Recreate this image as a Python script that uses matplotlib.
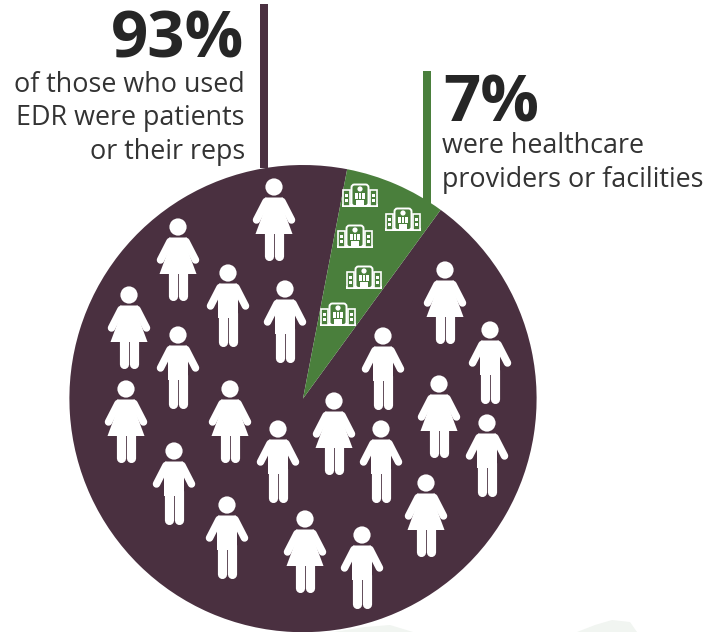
import matplotlib
matplotlib.use('Agg')
import matplotlib.pyplot as plt
from matplotlib.patches import Circle, Polygon, Rectangle, FancyBboxPatch

shares = [93, 7]
labels = ['patients or their reps', 'healthcare providers or facilities']
headline_big = '93%'
headline_small = '7%'
text_big = ['of those who used', 'EDR were patients', 'or their reps']
text_small = ['were healthcare', 'providers or facilities']

purple = '#4a3040'
green = '#4a7f3c'
white = 'white'
H = 632

# head centres of the pictogram people, pixels from the top left
women = [(274, 187), (178, 227), (129, 295), (126, 389), (230, 389), (334, 401),
         (445, 270), (439, 384), (426, 483), (305, 519)]
men = [(228, 273), (285, 289), (178, 335), (174, 451), (278, 429), (381, 429),
       (383, 336), (490, 330), (487, 423), (227, 505), (362, 535)]
# base centres of the little hospitals
hospitals = [(360, 205), (403, 229), (355, 246), (364, 287), (338, 324)]

fig = plt.figure(figsize=(7.09, 6.32), dpi=100)
ax = fig.add_axes([0, 0, 1, 1])
plt.rcParams['font.family'] = ['Open Sans', 'DejaVu Sans']


def person(x, y, skirt):
    y = H - y
    ax.add_patch(Circle((x, y), 8.6, fc=white, ec='none', zorder=5))
    # arms
    for s in (-1, 1):
        ax.plot([x + s * 8, x + s * 17.5], [y - 14.5, y - 33], color=white, lw=5.4,
                solid_capstyle='round', zorder=5)
    # legs
    for s in (-1, 1):
        ax.plot([x + s * 5.3, x + s * 5.3], [y - 40, y - 69], color=white, lw=6.6,
                solid_capstyle='round', zorder=5)
    if skirt:
        pts = [(x - 9, y - 10.5), (x + 9, y - 10.5), (x + 10, y - 24), (x + 18.5, y - 47),
               (x - 18.5, y - 47), (x - 10, y - 24)]
    else:
        pts = [(x - 9, y - 10.5), (x + 9, y - 10.5), (x + 10, y - 20), (x + 10, y - 45),
               (x - 10, y - 45), (x - 10, y - 20)]
    ax.add_patch(Polygon(pts, closed=True, fc=white, ec='none', zorder=5))


def hospital(x, y):
    y = H - y
    ax.add_patch(Rectangle((x - 18, y - 2), 36, 3, fc=white, ec='none', zorder=5))
    # side wings then the main block over them
    for s in (-1, 1):
        ax.add_patch(Rectangle((x + s * 13.5 - 3.5, y - 1), 7, 16, fc=green, ec=white,
                               lw=1.2, zorder=5))
        for dy in (3.5, 8):
            ax.add_patch(Rectangle((x + s * 13.5 - 1.5, y + dy), 3, 2.6, fc=white,
                                   ec='none', zorder=6))
    ax.add_patch(FancyBboxPatch((x - 8.5, y - 1), 17, 21.5,
                                boxstyle='round,pad=0,rounding_size=3', fc=green, ec=white,
                                lw=1.4, zorder=6))
    ax.add_patch(Circle((x, y + 16), 2.6, fc=white, ec='none', zorder=7))
    for i in (-1, 0, 1):
        for j in (0, 1):
            ax.add_patch(Rectangle((x + i * 3.4 - 1.4, y + 6 + j * 3.4), 2.8, 2.7, fc=white,
                                   ec='none', zorder=7))
    ax.add_patch(Rectangle((x - 3.6, y - 1), 7.2, 6.5, fc=white, ec='none', zorder=7))


# pale shapes peeking in along the bottom edge
ax.add_patch(Polygon([(333, 0), (365, 5), (390, 7), (413, 0)], fc='#f1f5f1', ec='none'))
ax.add_patch(Polygon([(577, 0), (595, 7), (612, 12), (630, 10), (637, 0)], fc='#f1f5f1', ec='none'))

# connector bars
ax.add_patch(Rectangle((260, H - 168), 8, 164, fc=purple, ec='none'))
ax.add_patch(Rectangle((423, H - 205), 8, 134, fc=green, ec='none'))

ax.pie(shares, colors=[purple, green], center=(303, H - 398.6), radius=233.6,
       startangle=53.9, counterclock=False, frame=True,
       wedgeprops={'linewidth': 0, 'zorder': 3})

for p in women:
    person(p[0], p[1], True)
for p in men:
    person(p[0], p[1], False)
for p in hospitals:
    hospital(p[0], p[1])

ax.text(244, H - 58, headline_big, ha='right', va='baseline', fontsize=47, fontweight='bold', color='#262626')
ax.text(443, H - 122, headline_small, ha='left', va='baseline', fontsize=47, fontweight='bold', color='#262626')
for line, yy in zip(text_big, [92, 125, 159]):
    ax.text(245, H - yy, line, ha='right', va='baseline', fontsize=19.4, color='#333333')
for line, yy in zip(text_small, [153, 187]):
    ax.text(442, H - yy, line, ha='left', va='baseline', fontsize=19.4, color='#333333')

ax.set_xlim(0, 709)
ax.set_ylim(0, H)
ax.set_aspect('auto')
ax.axis('off')
fig.savefig('out.png', dpi=100, facecolor='white')
